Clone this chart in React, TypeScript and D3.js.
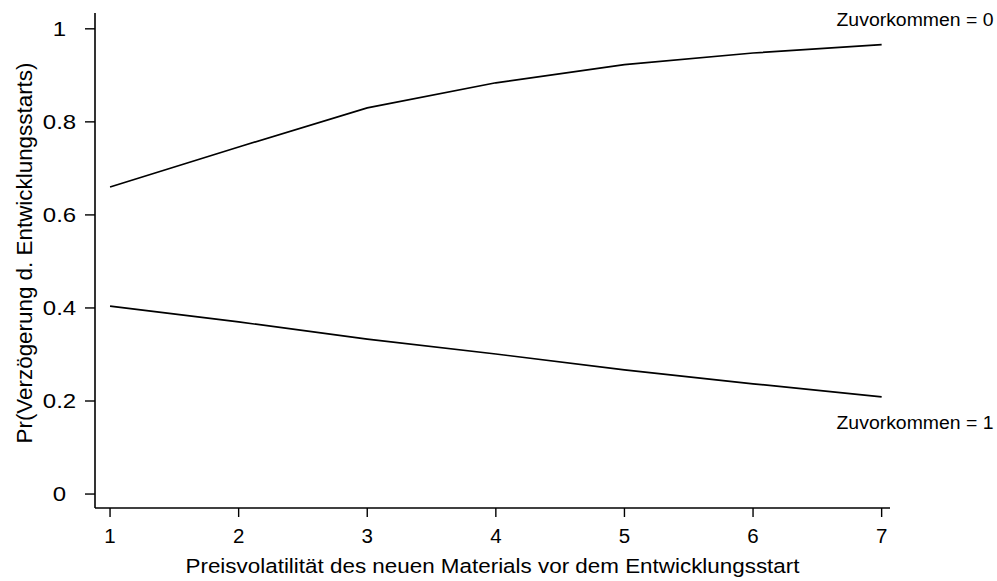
import React from "react";
import * as d3 from "d3";

// Predicted probability of a delayed development start by price volatility
const volatility = [1, 2, 3, 4, 5, 6, 7];
const probNoPreemption = [0.66, 0.746, 0.83, 0.884, 0.923, 0.948, 0.966];
const probPreemption = [0.404, 0.37, 0.333, 0.301, 0.267, 0.237, 0.209];

const xTicks = [1, 2, 3, 4, 5, 6, 7];
const yTicks = [0, 0.2, 0.4, 0.6, 0.8, 1];
const yTickLabels = ["0", "0.2", "0.4", "0.6", "0.8", "1"];

const xTitle = "Preisvolatilität des neuen Materials vor dem Entwicklungsstart";
const yTitle = "Pr(Verzögerung d. Entwicklungsstarts)";
const seriesLabels = ["Zuvorkommen = 0", "Zuvorkommen = 1"];

const W = 997;
const H = 581;
const FONT = "'Liberation Sans', Arial, Helvetica, sans-serif";

export default function App() {
  const x = d3.scaleLinear().domain([0.883, 7.065]).range([95, 890]);
  const y = d3.scaleLinear().domain([-0.03, 1.034]).range([508, 13]);

  const line = d3
    .line<number>()
    .x((_, i) => x(volatility[i]))
    .y((d) => y(d))
    .curve(d3.curveLinear);

  const [x0, x1] = x.range();
  const [yBottom, yTop] = y.range();
  const ink = "#000";

  return (
    <svg
      width={W}
      height={H}
      style={{ position: "fixed", left: 0, top: 0, background: "#fff" }}
      fontFamily={FONT}
    >
      <rect width={W} height={H} fill="#fff" />

      {/* axes */}
      <line x1={x0} x2={x0} y1={yTop} y2={yBottom} stroke={ink} strokeWidth={1.6} />
      <line x1={x0} x2={x1} y1={yBottom} y2={yBottom} stroke={ink} strokeWidth={1.6} />

      {/* y ticks */}
      {yTicks.map((t, i) => (
        <g key={`y${t}`}>
          <line x1={x0 - 10} x2={x0} y1={y(t)} y2={y(t)} stroke={ink} strokeWidth={1.4} />
          <g transform={`translate(59.5,${y(t) + 7.2}) scale(1.17,1)`}>
            <text textAnchor="middle" fontSize={20.5} fill={ink}>
              {yTickLabels[i]}
            </text>
          </g>
        </g>
      ))}

      {/* x ticks */}
      {xTicks.map((t) => (
        <g key={`x${t}`}>
          <line x1={x(t)} x2={x(t)} y1={yBottom} y2={yBottom + 9} stroke={ink} strokeWidth={1.4} />
          <text x={x(t)} y={542.5} textAnchor="middle" fontSize={20.5} fill={ink}>
            {t}
          </text>
        </g>
      ))}

      {/* curves */}
      <path d={line(probNoPreemption) ?? ""} fill="none" stroke={ink} strokeWidth={1.7} />
      <path d={line(probPreemption) ?? ""} fill="none" stroke={ink} strokeWidth={1.7} />

      {/* series labels */}
      <text
        x={x(7.87)}
        y={y(1.005)}
        textAnchor="end"
        fontSize={17.5}
        textLength={157}
        lengthAdjust="spacingAndGlyphs"
        fill={ink}
      >
        {seriesLabels[0]}
      </text>
      <text
        x={x(7.87)}
        y={y(0.139)}
        textAnchor="end"
        fontSize={17.5}
        textLength={157}
        lengthAdjust="spacingAndGlyphs"
        fill={ink}
      >
        {seriesLabels[1]}
      </text>

      {/* axis titles */}
      <text
        x={(x0 + x1) / 2}
        y={573}
        textAnchor="middle"
        fontSize={20.5}
        textLength={614}
        lengthAdjust="spacingAndGlyphs"
        fill={ink}
      >
        {xTitle}
      </text>
      <text
        transform={`translate(32,${253}) rotate(-90)`}
        textAnchor="middle"
        fontSize={22}
        textLength={381}
        lengthAdjust="spacingAndGlyphs"
        fill={ink}
      >
        {yTitle}
      </text>
    </svg>
  );
}
